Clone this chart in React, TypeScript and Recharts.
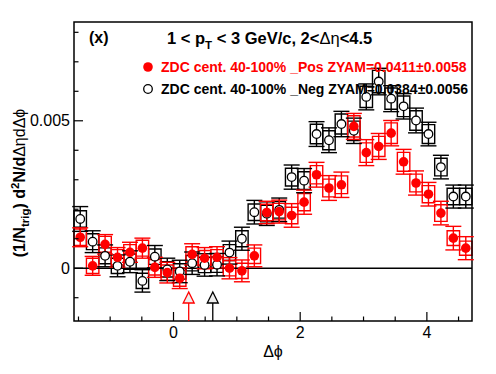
import React from "react";
import {
  ComposedChart,
  Scatter,
  ErrorBar,
  XAxis,
  YAxis,
  ReferenceArea,
  ReferenceLine,
  ReferenceDot,
} from "recharts";

const PI = Math.PI;
const NBINS = 32;
const BIN_W = (2 * PI) / NBINS;
const X_MIN = -PI / 2;
const X_MAX = (3 * PI) / 2;
const Y_MIN = -0.00179;
const Y_MAX = 0.00835;

const xTicks = [-1.5, -1, -0.5, 0, 0.5, 1, 1.5, 2, 2.5, 3, 3.5, 4, 4.5];
const xLabels = [0, 2, 4];
const yTicks = [-0.001, 0, 0.001, 0.002, 0.003, 0.004, 0.005, 0.006, 0.007, 0.008];
const yLabels = [0, 0.005];

// ZDC cent. 40-100% _Pos (red, filled)
const posY = [
  0.00105, 0.00008, 0.00081, 0.00037, 0.00054, 0.00068, 0.00003, -0.00015,
  -0.00034, 0.00047, 0.00034, 0.00037, 0.0, -0.00009, 0.00042, 0.00189,
  0.00192, 0.00179, 0.00224, 0.00317, 0.00272, 0.00283, 0.00481, 0.00392,
  0.00413, 0.00458, 0.00361, 0.00289, 0.00251, 0.00187, 0.00102, 0.00068,
];
const posStat = [
  0.00032, 0.00032, 0.00033, 0.00033, 0.00034, 0.00034, 0.00034, 0.00035,
  0.00035, 0.00036, 0.00036, 0.00036, 0.00036, 0.00037, 0.00037, 0.00038,
  0.00039, 0.0004, 0.00041, 0.00042, 0.00042, 0.00043, 0.00044, 0.00044,
  0.00044, 0.00043, 0.00042, 0.00041, 0.0004, 0.0004, 0.0004, 0.00039,
];
const posSys = [
  0.00028, 0.00026, 0.00027, 0.00026, 0.00026, 0.00027, 0.00026, 0.00026,
  0.00027, 0.00026, 0.00026, 0.00026, 0.00026, 0.00026, 0.00026, 0.00028,
  0.00028, 0.00028, 0.00029, 0.00031, 0.0003, 0.0003, 0.00036, 0.00033,
  0.00034, 0.00035, 0.00032, 0.0003, 0.00029, 0.00028, 0.00025, 0.00024,
];

// ZDC cent. 40-100% _Neg (black, open)
const negY = [
  0.00167, 0.0009, 0.00042, 0.00008, 0.00022, -0.00043, 0.00039, -0.00004,
  -0.00011, 0.00017, 0.00011, 0.00012, 0.00053, 0.001, 0.0019, 0.00185,
  0.00198, 0.00309, 0.00297, 0.00455, 0.00434, 0.00489, 0.00466, 0.00581,
  0.00633, 0.00575, 0.00549, 0.00501, 0.00455, 0.00343, 0.00243, 0.00243,
];
const negStat = [
  0.00042, 0.00037, 0.00037, 0.00037, 0.00037, 0.00038, 0.00038, 0.00038,
  0.00038, 0.00038, 0.00038, 0.00038, 0.00039, 0.00039, 0.0004, 0.0004,
  0.0004, 0.00041, 0.00041, 0.00042, 0.00042, 0.00043, 0.00043, 0.00044,
  0.00045, 0.00044, 0.00043, 0.00042, 0.0004, 0.0004, 0.00039, 0.00039,
];
const negSys = [
  0.00028, 0.00027, 0.00027, 0.00026, 0.00026, 0.00026, 0.00026, 0.00026,
  0.00026, 0.00026, 0.00026, 0.00026, 0.00027, 0.00027, 0.00028, 0.00028,
  0.00028, 0.0003, 0.0003, 0.00033, 0.00032, 0.00034, 0.00033, 0.00036,
  0.00038, 0.00036, 0.00035, 0.00033, 0.00032, 0.0003, 0.00028, 0.00028,
];

// ZYAM minimum positions (arrows)
const zyamPos = 0.24;
const zyamNeg = 0.62;

const FONT = "'Liberation Sans', Arial, Helvetica, sans-serif";
const RED = "#ff0000";

const binLo = (i: number) => X_MIN + i * BIN_W;
const binCenter = (i: number) => X_MIN + (i + 0.5) * BIN_W;

const posRows = posY.map((y, i) => ({ x: binCenter(i), y, err: posStat[i] }));
const negRows = negY.map((y, i) => ({ x: binCenter(i), y, err: negStat[i] }));

const near = (a: number, list: number[]) => list.some((b) => Math.abs(a - b) < 1e-9);

const XTick = (p: any) => {
  const v = p.payload.value;
  const major = near(v, xLabels);
  return (
    <g>
      <line x1={p.x} x2={p.x} y1={p.y} y2={p.y - (major ? 9 : 4.5)} stroke="#000" strokeWidth={1.2} />
      {major && (
        <text x={p.x} y={p.y + 17} textAnchor="middle" fontFamily={FONT} fontSize={16} fill="#000">
          {v}
        </text>
      )}
    </g>
  );
};

const YTick = (p: any) => {
  const v = p.payload.value;
  const major = near(v, yLabels);
  return (
    <g>
      <line x1={p.x} x2={p.x + (major ? 9 : 4.5)} y1={p.y} y2={p.y} stroke="#000" strokeWidth={1.2} />
      {major && (
        <text x={p.x - 4} y={p.y + 5.5} textAnchor="end" fontFamily={FONT} fontSize={16} fill="#000">
          {v === 0 ? "0" : "0.005"}
        </text>
      )}
    </g>
  );
};

const RedDot = (p: any) => <circle cx={p.cx} cy={p.cy} r={4.8} fill={RED} />;
const OpenDot = (p: any) => (
  <circle cx={p.cx} cy={p.cy} r={4.3} fill="#fff" stroke="#000" strokeWidth={1.3} />
);

const arrow = (color: string) => (p: any) => {
  const { cx, cy } = p;
  return (
    <g>
      <line x1={cx} x2={cx} y1={cy} y2={cy - 18} stroke={color} strokeWidth={1.3} />
      <polygon
        points={`${cx},${cy - 29} ${cx - 5.5},${cy - 18} ${cx + 5.5},${cy - 18}`}
        fill="#eeeeee"
        stroke={color}
        strokeWidth={1.3}
      />
    </g>
  );
};

const boxes = (vals: number[], sys: number[], color: string, key: string) =>
  vals.map((v, i) => (
    <ReferenceArea
      key={`${key}${i}`}
      x1={binLo(i)}
      x2={binLo(i + 1)}
      y1={v - sys[i]}
      y2={v + sys[i]}
      fill="none"
      fillOpacity={0}
      stroke={color}
      strokeWidth={1.4}
      ifOverflow="visible"
    />
  ));

export default function App() {
  return (
    <div style={{ position: "absolute", left: 0, top: 0, width: 496, height: 374, background: "#fff" }}>
      <ComposedChart width={496} height={374} margin={{ top: 22, right: 24, bottom: 0, left: 0 }}>
        <XAxis
          type="number"
          dataKey="x"
          domain={[X_MIN, X_MAX]}
          allowDataOverflow
          ticks={xTicks}
          interval={0}
          tickSize={0}
          tickMargin={0}
          axisLine={false}
          tickLine={false}
          tick={<XTick />}
          height={53}
        />
        <YAxis
          type="number"
          dataKey="y"
          domain={[Y_MIN, Y_MAX]}
          allowDataOverflow
          ticks={yTicks}
          interval={0}
          tickSize={0}
          tickMargin={0}
          axisLine={false}
          tickLine={false}
          tick={<YTick />}
          width={74}
        />
        <ReferenceLine y={0} stroke="#000" strokeWidth={1.5} ifOverflow="visible" />
        {boxes(negY, negSys, "#000", "nb")}
        <Scatter data={negRows} dataKey="y" shape={OpenDot} isAnimationActive={false}>
          <ErrorBar dataKey="err" direction="y" width={8} stroke="#000" strokeWidth={1.4} isAnimationActive={false} />
        </Scatter>
        {boxes(posY, posSys, RED, "pb")}
        <Scatter data={posRows} dataKey="y" shape={RedDot} isAnimationActive={false}>
          <ErrorBar dataKey="err" direction="y" width={8} stroke={RED} strokeWidth={1.4} isAnimationActive={false} />
        </Scatter>
        <ReferenceDot x={zyamPos} y={Y_MIN} ifOverflow="visible" shape={arrow(RED)} />
        <ReferenceDot x={zyamNeg} y={Y_MIN} ifOverflow="visible" shape={arrow("#000")} />
        <ReferenceArea
          x1={X_MIN}
          x2={X_MAX}
          y1={Y_MIN}
          y2={Y_MAX}
          fill="none"
          fillOpacity={0}
          stroke="#000"
          strokeWidth={1.5}
          ifOverflow="visible"
        />
      </ComposedChart>
      <svg
        width={496}
        height={374}
        style={{ position: "absolute", left: 0, top: 0, pointerEvents: "none" }}
        fontFamily={FONT}
      >
        <text x={89} y={43} fontSize={16} fontWeight="bold">(x)</text>
        <text x={167} y={43.5} fontSize={16.5} fontWeight="bold">
          1 &lt; p<tspan fontSize={11.5} dy={5}>T</tspan>
          <tspan dy={-5}> &lt; 3 GeV/c, 2&lt;</tspan>
          <tspan fontWeight="normal">Δη</tspan>
          <tspan>&lt;4.5</tspan>
        </text>
        <circle cx={148} cy={67} r={4.8} fill={RED} />
        <text x={161} y={72} fontSize={14} fontWeight="bold" fill={RED}>
          ZDC cent. 40-100% _Pos ZYAM=0.0411±0.0058
        </text>
        <circle cx={148} cy={89} r={4.3} fill="#fff" stroke="#000" strokeWidth={1.3} />
        <text x={161} y={94} fontSize={14} fontWeight="bold" fill="#000">
          ZDC cent. 40-100% _Neg ZYAM=0.0384±0.0056
        </text>
        <text x={273} y={357} fontSize={16} textAnchor="middle">Δϕ</text>
        <text transform="translate(25,183) rotate(-90)" fontSize={16} fontWeight="bold" textAnchor="middle">
          (1/N<tspan fontSize={11.5} dy={4}>trig</tspan>
          <tspan dy={-4}>) d</tspan>
          <tspan fontSize={11.5} dy={-6}>2</tspan>
          <tspan dy={6}>N/d</tspan>
          <tspan fontWeight="normal">ΔηdΔϕ</tspan>
        </text>
      </svg>
    </div>
  );
}
